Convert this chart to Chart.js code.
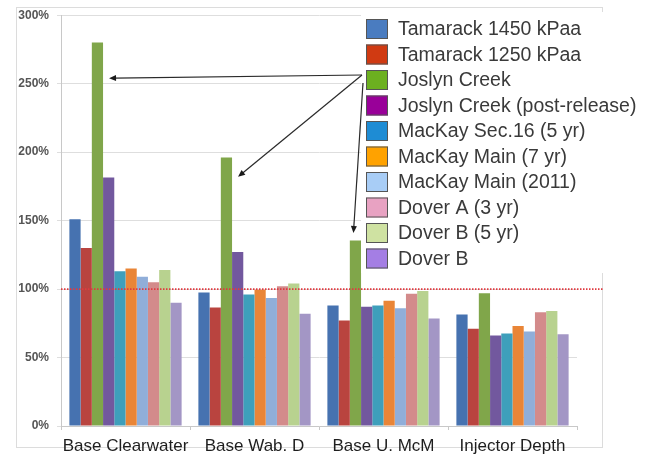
<!DOCTYPE html>
<html lang="en">
<head>
<meta charset="UTF-8">
<title>Pressure Ratio by Depth</title>
<script src="https://cdn.jsdelivr.net/npm/chart.js"></script>
<style>
  html, body { margin: 0; padding: 0; background: #fff; }
</style>
</head>
<body>
<canvas id="ratio-chart" width="652" height="457"></canvas>
<script>
// categories and series (values in %)
const categories = ['Base Clearwater', 'Base Wab. D', 'Base U. McM', 'Injector Depth'];
const seriesNames = [
  'Tamarack 1450 kPaa',
  'Tamarack 1250 kPaa',
  'Joslyn Creek',
  'Joslyn Creek (post-release)',
  'MacKay Sec.16 (5 yr)',
  'MacKay Main (7 yr)',
  'MacKay Main (2011)',
  'Dover A (3 yr)',
  'Dover B (5 yr)',
  'Dover B'
];
const tamarack1450 = [151, 97.5, 88, 81.5];
const tamarack1250 = [130, 86.5, 77, 71];
const joslynCreek = [280, 196, 135.5, 97];
const joslynPost = [181.5, 127, 87, 66];
const mackaySec16 = [113, 96, 88, 67.5];
const mackayMain7 = [115, 99.5, 91.5, 73];
const mackayMain2011 = [109, 93.5, 86, 69];
const doverA3 = [105, 102, 96.5, 83];
const doverB5 = [114, 104, 98.5, 84];
const doverB = [90, 82, 78.5, 67];
const yTicks = [0, 50, 100, 150, 200, 250, 300];
const referenceLevel = 100;

const seriesValues = [tamarack1450, tamarack1250, joslynCreek, joslynPost, mackaySec16,
  mackayMain7, mackayMain2011, doverA3, doverB5, doverB];

const barColors = ['#4672b0', '#b9443f', '#80a64a', '#72589e', '#3e9fbb',
  '#e98537', '#90aed9', '#d38b8b', '#b8d28f', '#a396c5'];
const legendColors = ['#4a7cc0', '#d03a12', '#6cb020', '#990099', '#1e8cd4',
  '#ffa200', '#a8cdf6', '#e8a2c2', '#cfe2a2', '#a47ee4'];

// arrows from the "Joslyn Creek" legend entry to the Joslyn bars
const arrowTargets = [
  { group: 0, value: 254, side: 'right' },
  { group: 1, value: 182, side: 'right' },
  { group: 2, value: 141, side: 'top' }
];

const FONT = '"Liberation Sans", Arial, sans-serif';

function drawArrow(ctx, x0, y0, x1, y1) {
  const ang = Math.atan2(y1 - y0, x1 - x0);
  const len = 7, half = 3;
  ctx.beginPath();
  ctx.moveTo(x0, y0);
  ctx.lineTo(x1 - Math.cos(ang) * len * 0.8, y1 - Math.sin(ang) * len * 0.8);
  ctx.stroke();
  ctx.beginPath();
  ctx.moveTo(x1, y1);
  ctx.lineTo(x1 - Math.cos(ang) * len - Math.sin(ang) * half, y1 - Math.sin(ang) * len + Math.cos(ang) * half);
  ctx.lineTo(x1 - Math.cos(ang) * len + Math.sin(ang) * half, y1 - Math.sin(ang) * len - Math.cos(ang) * half);
  ctx.closePath();
  ctx.fill();
}

const overlay = {
  id: 'overlay',
  beforeDraw(chart) {
    const ctx = chart.ctx;
    ctx.save();
    ctx.strokeStyle = '#dcdcdc';
    ctx.lineWidth = 1;
    ctx.strokeRect(16.5, 7.5, 586, 440);
    ctx.restore();
  },
  afterDatasetsDraw(chart) {
    const { ctx, chartArea, scales } = chart;
    const yy = scales.y.getPixelForValue(referenceLevel);
    ctx.save();
    ctx.strokeStyle = '#e03a40';
    ctx.lineWidth = 1.8;
    ctx.setLineDash([1.5, 1.5]);
    ctx.beginPath();
    ctx.moveTo(chartArea.left, yy);
    ctx.lineTo(603, yy);
    ctx.stroke();
    ctx.restore();
  },
  afterDraw(chart) {
    const { ctx, scales } = chart;
    ctx.save();
    // legend panel
    ctx.fillStyle = '#fff';
    ctx.fillRect(361, 12, 291, 261);
    const top = 29, step = 25.5, boxX = 366;
    ctx.font = '19.5px ' + FONT;
    ctx.textBaseline = 'middle';
    seriesNames.forEach((name, i) => {
      const cy = top + i * step;
      ctx.fillStyle = legendColors[i];
      ctx.fillRect(boxX, cy - 10, 22, 20);
      ctx.strokeStyle = '#555';
      ctx.lineWidth = 1;
      ctx.strokeRect(boxX + 0.5, cy - 9.5, 21, 19);
      ctx.fillStyle = '#3a3a3a';
      ctx.fillText(name, boxX + 32, cy + 1);
    });
    // arrows
    const meta = chart.getDatasetMeta(2);
    ctx.strokeStyle = '#2a2a2a';
    ctx.fillStyle = '#1a1a1a';
    ctx.lineWidth = 1.2;
    const originY = top + 2 * step;
    arrowTargets.forEach(t => {
      const bar = meta.data[t.group];
      const ty = scales.y.getPixelForValue(t.value);
      if (t.side === 'right') {
        drawArrow(ctx, boxX - 4, originY - 5, bar.x + bar.width / 2 + 6, ty);
      } else {
        drawArrow(ctx, boxX - 3, originY + 3, bar.x - 2, ty);
      }
    });
    ctx.restore();
  }
};

new Chart(document.getElementById('ratio-chart'), {
  type: 'bar',
  data: {
    labels: categories,
    datasets: seriesNames.map((name, i) => ({
      label: name,
      data: seriesValues[i],
      backgroundColor: barColors[i],
      borderWidth: 0,
      categoryPercentage: 0.87,
      barPercentage: 1
    }))
  },
  options: {
    responsive: false,
    animation: false,
    layout: { padding: { left: 18, right: 75, top: 13, bottom: 0 } },
    plugins: {
      legend: { display: false },
      tooltip: { enabled: false }
    },
    scales: {
      x: {
        afterFit: axis => { axis.height = 31; axis.paddingLeft = 0; axis.paddingRight = 0; },
        grid: { drawOnChartArea: false, drawTicks: true, tickLength: 4, color: '#c8c8c8' },
        border: { color: '#c8c8c8' },
        ticks: {
          padding: 6,
          autoSkip: false,
          maxRotation: 0,
          minRotation: 0,
          color: '#1e1e1e',
          font: { family: FONT, size: 17 }
        }
      },
      y: {
        min: 0,
        max: 300,
        afterFit: axis => { axis.width = 43; },
        afterBuildTicks: axis => { axis.ticks = yTicks.map(v => ({ value: v })); },
        grid: { color: '#dedede', tickLength: 4 },
        border: { color: '#c8c8c8' },
        ticks: {
          padding: 8,
          color: '#555',
          font: { family: FONT, size: 12, weight: 'bold' },
          callback: v => v + '%'
        }
      }
    }
  },
  plugins: [overlay]
});
</script>
</body>
</html>
